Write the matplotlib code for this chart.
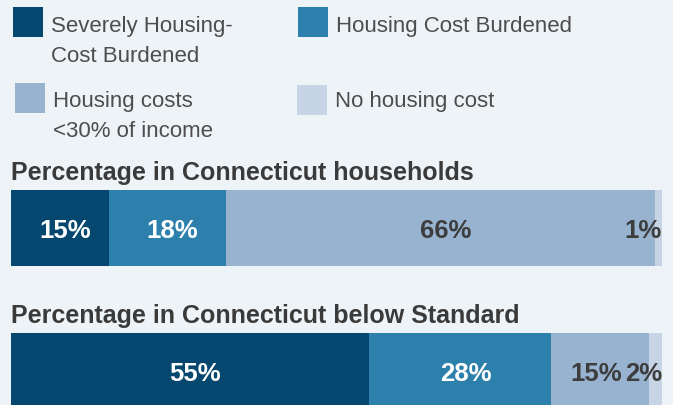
import matplotlib.pyplot as plt
import numpy as np

# categories / data
categories = ['Severely Housing-\nCost Burdened', 'Housing Cost Burdened',
              'Housing costs\n<30% of income', 'No housing cost']
colors = ['#05476f', '#2c80ab', '#98b3d0', '#c6d4e6']
label_colors = ['white', 'white', '#3d3d3d', '#3d3d3d']

titles = ['Percentage in Connecticut households',
          'Percentage in Connecticut below Standard']
ct_households = [15, 18, 66, 1]
ct_below_standard = [55, 28, 15, 2]

bg = '#eef3f8'
W, H = 673, 406
fonts = ['Liberation Sans', 'DejaVu Sans']

fig = plt.figure(figsize=(W / 100, H / 100), dpi=100)
fig.patch.set_facecolor(bg)

# background axes in pixel coords for legend + titles
ax = fig.add_axes([0, 0, 1, 1])
ax.set_xlim(0, W)
ax.set_ylim(H, 0)
ax.axis('off')

# legend squares and text (square x, square y, text baseline)
leg_pos = [(13, 8, 32), (298, 8, 32), (15, 84, 107), (297, 86, 107)]
for (x, y, base), c, lab in zip(leg_pos, colors, categories):
    ax.add_patch(plt.Rectangle((x, y), 30, 30, color=c, lw=0))
    for k, line in enumerate(lab.split('\n')):
        ax.text(x + 38, base + 30 * k, line, family=fonts, fontsize=16,
                color='#4d4d4d', va='baseline', ha='left')

# titles
ax.text(11, 180, titles[0], family=fonts, fontsize=18, fontweight='bold',
        color='#3a3a3a', va='baseline')
ax.text(11, 323, titles[1], family=fonts, fontsize=18, fontweight='bold',
        color='#3a3a3a', va='baseline')


def draw_bar(rect, values):
    bax = fig.add_axes(rect)
    bax.set_xlim(0, sum(values))
    bax.set_ylim(-0.5, 0.5)
    bax.axis('off')
    lefts = np.concatenate([[0], np.cumsum(values)[:-1]])
    bax.barh(0, values, left=lefts, height=1.0, color=colors, lw=0)
    total = sum(values)
    for i, (v, l) in enumerate(zip(values, lefts)):
        txt = f'{v}%'
        if v < 5:
            x, ha = total, 'right'
        elif v < 20 and values[-1] < 5 and i == len(values) - 2:
            x, ha = l + v * 0.72, 'right'
        else:
            x, ha = l + v / 2 + 0.8, 'center'
        bax.text(x, -0.02, txt, family=fonts, fontsize=18.5, fontweight='bold',
                 color=label_colors[i], ha=ha, va='center')


draw_bar([11 / W, (H - 267) / H, 651 / W, 76 / H], ct_households)
draw_bar([11 / W, (H - 410) / H, 651 / W, 76 / H], ct_below_standard)

fig.savefig('out.png', dpi=100, facecolor=bg)
